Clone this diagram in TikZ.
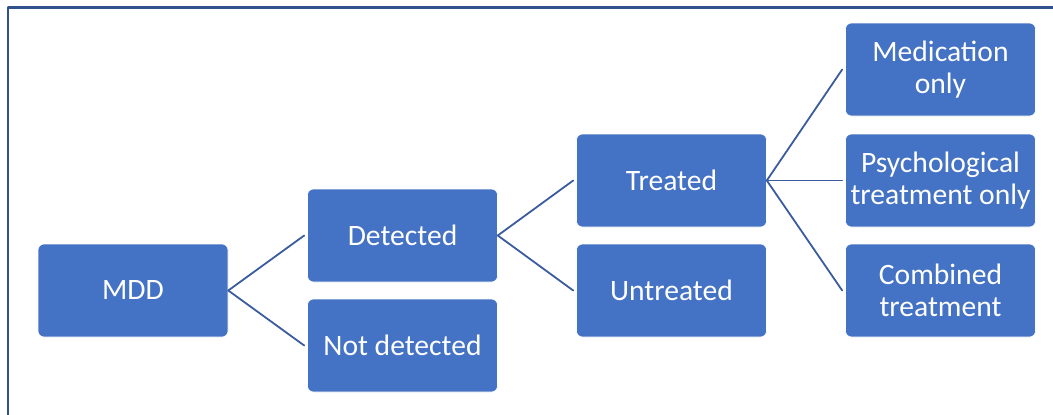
\documentclass[tikz,border=0pt]{standalone}
\usepackage{fontspec}
\setmainfont{Carlito}
\usepackage{tikz}
\definecolor{boxblue}{HTML}{4472C4}
\definecolor{lineblue}{HTML}{3A5C9E}
\definecolor{frameblue}{HTML}{2F528F}

\begin{document}
\begin{tikzpicture}[line cap=round,line join=round,x=1pt,y=-1pt]
\tikzset{
  branch/.style={rectangle,rounded corners=6pt,fill=boxblue,draw=white,line width=0.6pt,
    minimum width=190pt,minimum height=93pt,inner sep=1pt,align=center,text=white,
    font=\fontsize{29.6}{32.5}\selectfont},
  link/.style={draw=lineblue,line width=1.8pt}
}
\useasboundingbox (0,0) rectangle (1053,415);
% frame
\draw [color=frameblue,line width=2.5pt,line cap=butt] (8,420) -- (8,7.5) -- (1060,7.5);
% boxes
\node[branch] (mdd) at (133,290.5) {MDD};
\node[branch] (det) at (402.5,235.5) {Detected};
\node[branch] (notdet) at (402.5,345.5) {Not detected};
\node[branch] (treat) at (671.5,180.5) {Treated};
\node[branch] (untreat) at (671.5,290.5) {Untreated};
\node[branch] (med) at (940.5,69.5) {Medication\\only};
\node[branch] (psy) at (940.5,180.5) {Psychological\\treatment only};
\node[branch] (comb) at (940.5,290.5) {Combined\\treatment};
% connectors
\draw [link] (mdd.east) -- ([xshift=-3pt]det.west);
\draw [link] (mdd.east) -- ([xshift=-3pt]notdet.west);
\draw [link] (det.east) -- ([xshift=-3pt]treat.west);
\draw [link] (det.east) -- ([xshift=-3pt]untreat.west);
\draw [link] (treat.east) -- ([xshift=-3pt]med.west);
\draw [link] (treat.east) -- ([xshift=-3pt]psy.west);
\draw [link] (treat.east) -- ([xshift=-3pt]comb.west);
\end{tikzpicture}
\end{document}
